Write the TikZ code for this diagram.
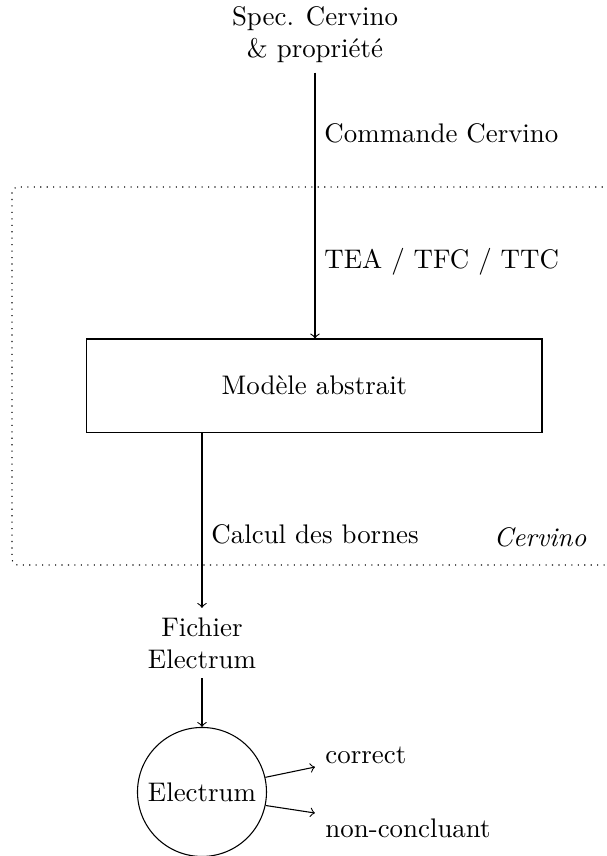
\documentclass[tikz,border=0pt]{standalone}
\usepackage{amsmath,amssymb}
\usepackage{tikz}
\usetikzlibrary{positioning}
\tikzset{bloc/.style={draw, minimum width=5.947cm, minimum height=1.216cm},
    rond/.style={draw, circle, minimum size=1.686cm, inner sep=0pt},
    texte/.style={align=center}
}

\begin{document}
\begin{tikzpicture}
                \useasboundingbox (0,0) rectangle (7.933,-11.188);

                % Zone Cervino
                \draw[dotted, rounded corners=2pt] (8.3,-2.444) -- (0.157,-2.444) -- (0.157,-7.385) -- (8.3,-7.385);
                \node (cervino) at (7.058,-7.019) {\textit{Cervino}};

                % Noeuds
                \node[texte] (spec) at (4.117,-0.457) {Spec. Cervino\\\& propriété};
                \node[bloc] (modele) at (4.11,-5.039) {Modèle abstrait};
                \node[texte] (fichier) at (2.640,-8.404) {Fichier\\Electrum};
                \node[rond] (electrum) at (2.640,-10.351) {Electrum};

                % Fleches
                \draw[->] (spec) -- (spec |- modele.north)
                    node[pos=0.228, right] (commande) {Commande Cervino}
                    node[pos=0.71, right] (trad) {TEA / TFC / TTC};
                \draw[->] (fichier |- modele.south) -- (fichier)
                    node[pos=0.583, right] (calcul) {Calcul des bornes};
                \draw[->] (fichier) -- (electrum);

                % Resultats
                \coordinate (finok) at (4.117,-10.025);
                \coordinate (finnc) at (4.117,-10.626);
                \draw[->] (electrum.13) -- (finok);
                \draw[->] (electrum.-12) -- (finnc);
                \node[right] (correct) at (4.130,-9.868) {correct};
                \node[right] (nonconcl) at (4.130,-10.822) {non-concluant};
            \end{tikzpicture}
\end{document}
